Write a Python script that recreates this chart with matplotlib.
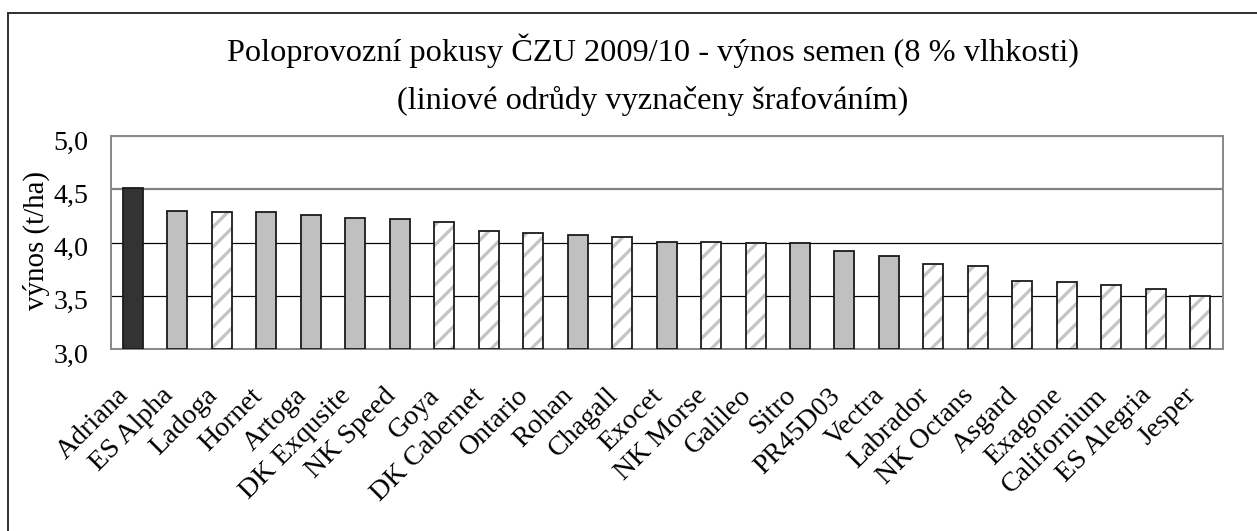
import matplotlib
matplotlib.use("Agg")
import matplotlib.pyplot as plt
from matplotlib.lines import Line2D
from matplotlib.transforms import ScaledTranslation

# ---------------- data ----------------
varieties = ["Adriana", "ES Alpha", "Ladoga", "Hornet", "Artoga", "DK Exqusite",
             "NK Speed", "Goya", "DK Cabernet", "Ontario", "Rohan", "Chagall",
             "Exocet", "NK Morse", "Galileo", "Sitro", "PR45D03", "Vectra",
             "Labrador", "NK Octans", "Asgard", "Exagone", "Californium",
             "ES Alegria", "Jesper"]
yields = [4.51, 4.30, 4.29, 4.29, 4.26, 4.23, 4.22, 4.19, 4.11, 4.09, 4.07,
          4.05, 4.01, 4.01, 4.00, 4.00, 3.92, 3.87, 3.80, 3.78, 3.64, 3.63,
          3.60, 3.56, 3.50]
# variety type: "control" = control (dark), "hybrid" = solid grey, "line" = hatched
variety_type = ["control", "hybrid", "line", "hybrid", "hybrid", "hybrid",
                "hybrid", "line", "line", "line", "hybrid", "line",
                "hybrid", "line", "line", "hybrid", "hybrid", "hybrid",
                "line", "line", "line", "line", "line", "line", "line"]
y_ticks = [3.0, 3.5, 4.0, 4.5, 5.0]
y_tick_labels = ["3,0", "3,5", "4,0", "4,5", "5,0"]
title_line1 = "Poloprovozní pokusy ČZU 2009/10 - výnos semen (8 % vlhkosti)"
title_line2 = "(liniové odrůdy vyznačeny šrafováním)"
y_label = "výnos (t/ha)"

# ---------------- style ----------------
DPI = 60
W, H = 1257, 531
def pt(px):
    return px * 72.0 / DPI

plt.rcParams['font.family'] = ['Liberation Serif', 'DejaVu Serif']
plt.rcParams['hatch.linewidth'] = pt(3.2)
plt.rcParams['hatch.color'] = '#c4c4c4'

fig = plt.figure(figsize=(W / DPI, H / DPI), dpi=DPI)
fig.patch.set_facecolor('white')

L, R, T, B = 110.7, 1222.5, 136.3, 349.0
ax = fig.add_axes([L / W, 1 - B / H, (R - L) / W, (B - T) / H])

x = list(range(len(varieties)))
bar_w = 0.45
colors = {"control": "#333333", "hybrid": "#c0c0c0", "line": "white"}
for xi, val, vt in zip(x, yields, variety_type):
    if vt == "line":
        ax.bar(xi, val - y_ticks[0], bottom=y_ticks[0], width=bar_w,
               color='white', edgecolor='#c4c4c4', hatch='/', linewidth=0,
               zorder=3)
        ax.bar(xi, val - y_ticks[0], bottom=y_ticks[0], width=bar_w,
               fill=False, edgecolor='#1a1a1a', linewidth=pt(1.8), zorder=4)
    else:
        ax.bar(xi, val - y_ticks[0], bottom=y_ticks[0], width=bar_w,
               color=colors[vt], edgecolor='#1a1a1a', linewidth=pt(1.8),
               zorder=3)

ax.set_xlim(-0.5, len(varieties) - 0.5)
ax.set_ylim(y_ticks[0], y_ticks[-1])
ax.set_yticks(y_ticks)
ax.set_yticklabels(y_tick_labels, fontsize=pt(28))
ax.set_xticks(x)
ax.set_xticklabels(varieties, fontsize=pt(28), rotation=45, ha='right',
                   va='center', rotation_mode='anchor')
ax.tick_params(axis='both', length=0)
ax.tick_params(axis='y', pad=pt(22))
ax.tick_params(axis='x', pad=pt(43))

xoff = ScaledTranslation(-8 / DPI, 0, fig.dpi_scale_trans)
for lab in ax.get_xticklabels():
    lab.set_transform(lab.get_transform() + xoff)
yoff = ScaledTranslation(0, -4 / DPI, fig.dpi_scale_trans)
for lab in ax.get_yticklabels():
    lab.set_transform(lab.get_transform() + yoff)

ax.yaxis.grid(True, zorder=0)
ax.set_axisbelow(True)
for val, gl in zip(y_ticks, ax.get_ygridlines()):
    if val >= 4.5:
        gl.set_color('#808080')
        gl.set_linewidth(pt(2.2))
    else:
        gl.set_color('#000000')
        gl.set_linewidth(pt(1.2))

for s in ax.spines.values():
    s.set_color('#8a8a8a')
    s.set_linewidth(pt(2))

ax.set_ylabel(y_label, fontsize=pt(29))
ax.yaxis.set_label_coords(-(L - 50) / (R - L), (B - 240) / (B - T))

fig.text(653 / W, 1 - 51 / H, title_line1, ha='center', va='center',
         fontsize=pt(32.4))
fig.text(653 / W, 1 - 101 / H, title_line2, ha='center', va='center',
         fontsize=pt(32.4))

# outer chart border
fig.add_artist(Line2D([8 / W, 8 / W], [0, 1 - 13 / H], transform=fig.transFigure,
                      color='#333333', linewidth=pt(2)))
fig.add_artist(Line2D([8 / W, 1], [1 - 13 / H, 1 - 13 / H], transform=fig.transFigure,
                      color='#333333', linewidth=pt(2)))

fig.savefig("out.png", dpi=DPI, facecolor='white')
